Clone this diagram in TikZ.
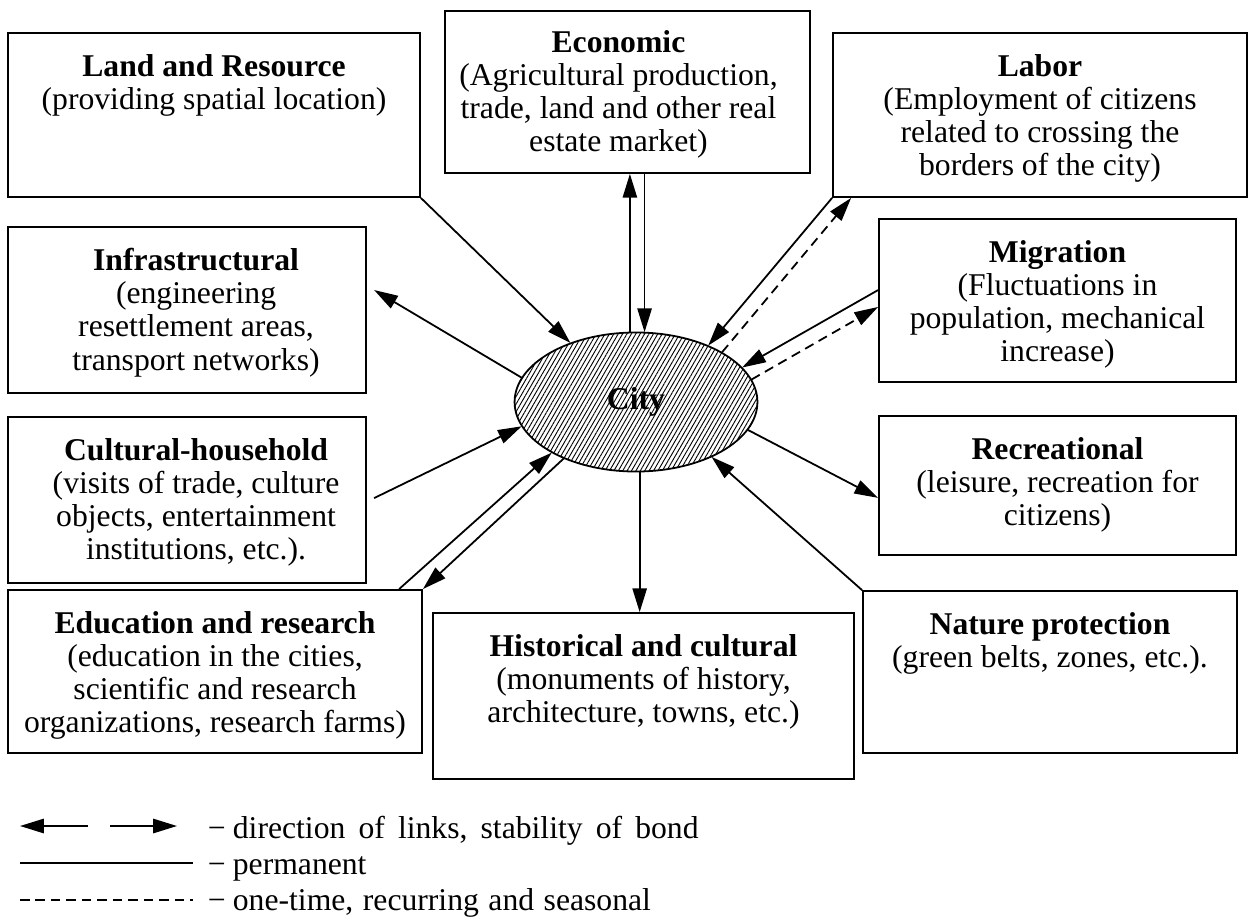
\documentclass[tikz,border=0pt]{standalone}
\usepackage{fontspec}
\setmainfont{Liberation Serif}
\usetikzlibrary{positioning, arrows.meta, shapes.geometric, patterns.meta}
\tikzset{every node/.append style={font=\fontsize{13.3}{13.9}\selectfont}}

\begin{document}
\begin{tikzpicture}[x=0.42pt, y=-0.42pt, line width=0.75pt, >={Triangle[length=10pt, width=6pt]},
    box/.style 2 args={draw, minimum width=#1, minimum height=#2, inner sep=0pt},
    txt/.style={align=center, inner sep=0pt},
    key/.style={anchor=base west, inner sep=0pt, font=\fontsize{13.3}{15}\selectfont},
    seasonal/.style={dash pattern=on 4pt off 2.5pt}]
    \useasboundingbox (0,0) rectangle (1253,917);

    % the city
    \node[ellipse, draw, minimum width=102pt, minimum height=58.4pt, inner sep=0pt,
        pattern={Lines[angle=60, distance=1.6pt, line width=0.38pt]}] (city) at (636,402) {\textbf{City}};

    % boxes round it
    \node[box={173pt}{68.9pt}] (land) at (214,115) {};
    \node[box={153.3pt}{68pt}] (econ) at (627.5,92) {};
    \node[box={173.9pt}{68.9pt}] (labor) at (1040,115) {};
    \node[box={150.4pt}{69.7pt}] (infra) at (187,310) {};
    \node[box={150.4pt}{69.7pt}] (cult) at (187,500) {};
    \node[box={173.9pt}{68.5pt}] (edu) at (215,671.5) {};
    \node[box={176.8pt}{69.7pt}] (hist) at (643.5,696) {};
    \node[box={157.1pt}{68pt}] (nature) at (1050,672) {};
    \node[box={149.9pt}{58.4pt}] (recr) at (1057.5,485.5) {};
    \node[box={149.9pt}{68.5pt}] (migr) at (1057.5,300.5) {};

    \node[txt, below=9pt of land.north] (landtext) {\textbf{Land and Resource}\\(providing spatial location)};
    \node[txt, below=8pt of econ.north, xshift=-3.8pt] (econtext) {\textbf{Economic}\\(Agricultural production,\\trade, land and other real\\estate market)};
    \node[txt, below=9pt of labor.north] (labortext) {\textbf{Labor}\\(Employment of citizens\\related to crossing the\\borders of the city)};
    \node[txt, below=9pt of infra.north, xshift=3.8pt] (infratext) {\textbf{Infrastructural}\\(engineering\\resettlement areas,\\transport networks)};
    \node[txt, below=9pt of cult.north, xshift=3.8pt] (culttext) {\textbf{Cultural-household}\\(visits of trade, culture\\objects, entertainment\\institutions, etc.).};
    \node[txt, below=9pt of edu.north] (edutext) {\textbf{Education and research}\\(education in the cities,\\scientific and research\\organizations, research farms)};
    \node[txt, below=9pt of hist.north] (histtext) {\textbf{Historical and cultural}\\(monuments of history,\\architecture, towns, etc.)};
    \node[txt, below=9pt of nature.north] (naturetext) {\textbf{Nature protection}\\(green belts, zones, etc.).};
    \node[txt, below=9pt of recr.north] (recrtext) {\textbf{Recreational}\\(leisure, recreation for\\citizens)};
    \node[txt, below=9pt of migr.north] (migrtext) {\textbf{Migration}\\(Fluctuations in\\population, mechanical\\increase)};

    % links
    \draw[->] (land.south east) -- (city.138);
    \draw[->] (city.95) -- (city.95 |- econ.south);
    \draw[->] (city.83 |- econ.south) -- (city.83);
    \draw[->] (labor.south west) -- (city.38);
    \draw[->, seasonal] (city.30) -- ([xshift=8pt]labor.south west);
    \draw[->] ([yshift=4.4pt]migr.west) -- (city.18);
    \draw[->, seasonal] (city.11) -- ([yshift=-2.7pt]migr.west);
    \draw[->] (city.168) -- ([xshift=3pt, yshift=8.4pt]infra.east);
    \draw[->] ([xshift=3pt, yshift=0.8pt]cult.east) -- (city.192);
    \draw[->] ([xshift=-10pt]edu.north east) -- (city.211);
    \draw[->] (city.218) -- (edu.north east);
    \draw[->] (city.273) -- (city.273 |- hist.north);
    \draw[->] (city.346) -- ([yshift=-5.2pt]recr.west);
    \draw[->] (nature.north west) -- (city.324);

    % legend
    \coordinate (la) at (20,826);
    \coordinate (lb) at (88,826);
    \coordinate (lc) at (110,826);
    \coordinate (ld) at (177,826);
    \coordinate (pa) at (20,863);
    \coordinate (pb) at (193,863);
    \coordinate (sa) at (20,900);
    \coordinate (sb) at (193,900);
    \draw[->] (lb) -- (la);
    \draw[->] (lc) -- (ld);
    \draw (pa) -- (pb);
    \draw[seasonal] (sa) -- (sb);
    \node[key] (linkkey) at (207,838) {−\hspace{3pt}{\spaceskip=5.5pt direction of links, stability of bond}};
    \node[key] (permkey) at (207,874) {−\hspace{3pt}permanent};
    \node[key] (seaskey) at (207,910) {−\hspace{3pt}{\spaceskip=4pt one-time, recurring and seasonal}};
\end{tikzpicture}
\end{document}
